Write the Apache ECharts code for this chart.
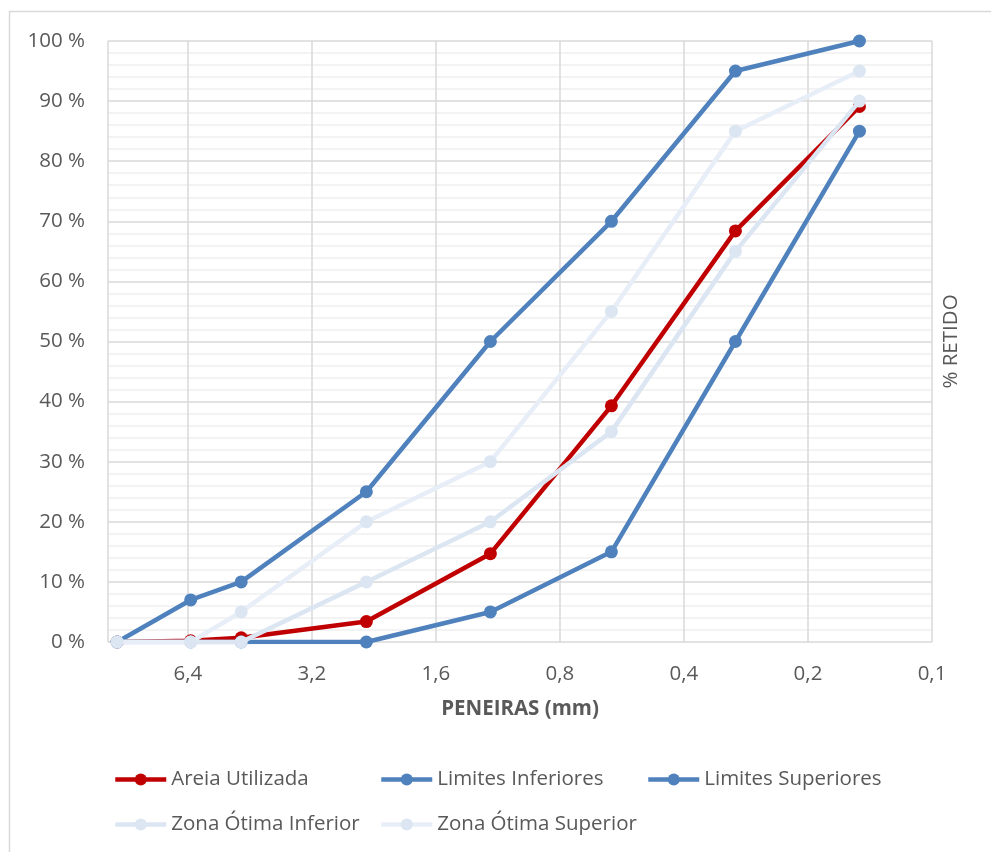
<!DOCTYPE html>
<html>
<head>
<meta charset="utf-8">
<script src="https://cdn.jsdelivr.net/npm/echarts@6/dist/echarts.min.js"></script>
<style>
html,body{margin:0;padding:0;background:#fff;}
#chart{width:991px;height:852px;}
</style>
</head>
<body>
<div id="chart"></div>
<script>
// Sieve openings (mm)
const sieves = [9.5, 6.3, 4.75, 2.36, 1.18, 0.6, 0.3, 0.15];
// % retained
const areiaUtilizada = [0, 0.2, 0.7, 3.4, 14.7, 39.3, 68.4, 89.1];
const limitesInferiores = [0, 0, 0, 0, 5, 15, 50, 85];
const limitesSuperiores = [0, 7, 10, 25, 50, 70, 95, 100];
const zonaOtimaInferior = [0, 0, 0, 10, 20, 35, 65, 90];
const zonaOtimaSuperior = [0, 0, 5, 20, 30, 55, 85, 95];
const seriesNames = ['Areia Utilizada', 'Limites Inferiores', 'Limites Superiores', 'Zona Ótima Inferior', 'Zona Ótima Superior'];
const xTickLabels = ['0,1', '0,2', '0,4', '0,8', '1,6', '3,2', '6,4'];
const yMaxMm = 10;   // left edge of axis (mm)
const xMinMm = 0.1;  // right edge of axis (mm)

// log2 scale relative to 0.1 mm
const toX = mm => Math.log2(mm / xMinMm);
const pairs = arr => sieves.map((s, i) => [toX(s), arr[i]]);

const font = '"Open Sans", "Noto Sans", sans-serif';
const txt = '#595959';
const fs = 20.5;

function lineSeries(name, data, color, lineColor, z) {
  return {
    name, type: 'line', data: pairs(data), symbol: 'circle', symbolSize: 13,
    z: z,
    itemStyle: { color: color },
    lineStyle: { color: lineColor || color, width: 4.5 },
    emphasis: { disabled: true }
  };
}

function legendAt(name, left, top, color, lineColor) {
  return {
    data: [{ name: name, itemStyle: { color: color }, lineStyle: { color: lineColor || color, width: 4.5 } }],
    left: left, top: top, orient: 'horizontal', padding: 0,
    itemWidth: 51, itemHeight: 15, itemGap: 0,
    textStyle: { color: txt, fontSize: fs, fontFamily: font },
    selectedMode: false
  };
}

const chart = echarts.init(document.getElementById('chart'), null, { renderer: 'canvas' });
chart.setOption({
  animation: false,
  backgroundColor: '#fff',
  textStyle: { fontFamily: font },
  graphic: [{
    type: 'rect', silent: true, z: -10,
    shape: { x: 9.5, y: 11.5, width: 2000, height: 2000 },
    style: { fill: 'none', stroke: '#D9D9D9', lineWidth: 1.5 }
  }],
  grid: { left: 108, right: 59, top: 41, bottom: 210, containLabel: false },
  xAxis: {
    type: 'value', inverse: true,
    min: 0, max: toX(yMaxMm), interval: 1,
    name: 'PENEIRAS (mm)', nameLocation: 'middle', nameGap: 57,
    nameTextStyle: { color: txt, fontSize: fs, fontWeight: 'bold', fontFamily: font },
    axisLine: { show: false }, axisTick: { show: false },
    axisLabel: {
      color: txt, fontSize: fs, fontFamily: font, margin: 22,
      formatter: v => {
        const k = Math.round(v);
        if (Math.abs(v - k) > 1e-6 || k < 0 || k >= xTickLabels.length) return '';
        return xTickLabels[k];
      }
    },
    splitLine: { show: true, lineStyle: { color: '#D9D9D9', width: 1.5 } }
  },
  yAxis: [{
    type: 'value', min: 0, max: 100, interval: 10,
    axisLine: { show: false }, axisTick: { show: false },
    axisLabel: { color: txt, fontSize: fs, fontFamily: font, margin: 23, formatter: '{value} %' },
    splitLine: { show: true, lineStyle: { color: '#D9D9D9', width: 1.5 } },
    minorTick: { show: false, splitNumber: 5 },
    minorSplitLine: { show: true, lineStyle: { color: '#F0F0F0', width: 1.5 } }
  }, {
    type: 'value', min: 0, max: 100, position: 'right',
    name: '% RETIDO', nameLocation: 'middle', nameRotate: 90, nameGap: 9,
    nameTextStyle: { color: txt, fontSize: fs, fontFamily: font },
    axisLine: { show: false }, axisTick: { show: false }, axisLabel: { show: false },
    splitLine: { show: false }
  }],
  legend: [
    legendAt(seriesNames[0], 113, 769, '#C00000'),
    legendAt(seriesNames[1], 379, 769, '#4F81BD'),
    legendAt(seriesNames[2], 646, 769, '#4F81BD'),
    legendAt(seriesNames[3], 113, 814, '#DCE6F2'),
    legendAt(seriesNames[4], 379, 814, '#DCE6F2', '#E8EEF7')
  ],
  series: [
    lineSeries(seriesNames[0], areiaUtilizada, '#C00000', null, 2),
    lineSeries(seriesNames[1], limitesInferiores, '#4F81BD', null, 3),
    lineSeries(seriesNames[2], limitesSuperiores, '#4F81BD', null, 4),
    lineSeries(seriesNames[3], zonaOtimaInferior, '#DCE6F2', '#DCE6F2', 5),
    lineSeries(seriesNames[4], zonaOtimaSuperior, '#DCE6F2', '#E8EEF7', 6)
  ]
});
</script>
</body>
</html>
